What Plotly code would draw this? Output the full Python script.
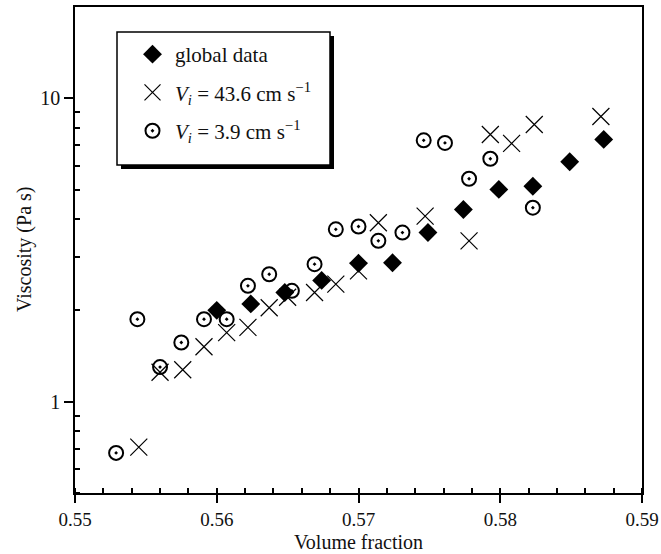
import plotly.graph_objects as go
import math

# ---- data ----
global_x = [0.5600, 0.5624, 0.5648, 0.5674, 0.5700, 0.5724, 0.5749, 0.5774, 0.5799, 0.5823, 0.5849, 0.5873]
global_y = [2.00, 2.10, 2.29, 2.51, 2.86, 2.87, 3.61, 4.30, 5.01, 5.13, 6.18, 7.32]

fast_x = [0.5545, 0.5560, 0.5576, 0.5591, 0.5607, 0.5622, 0.5637, 0.5650, 0.5669, 0.5684,
          0.5700, 0.5714, 0.5747, 0.5778, 0.5793, 0.5808, 0.5824, 0.5871]
fast_y = [0.708, 1.25, 1.274, 1.517, 1.69, 1.757, 2.04, 2.21, 2.29, 2.44,
          2.70, 3.89, 4.09, 3.39, 7.60, 7.10, 8.20, 8.71]

slow_x = [0.5529, 0.5544, 0.5560, 0.5575, 0.5591, 0.5607, 0.5622, 0.5637, 0.5653, 0.5669,
          0.5684, 0.5700, 0.5714, 0.5731, 0.5746, 0.5761, 0.5778, 0.5793, 0.5823]
slow_y = [0.678, 1.87, 1.30, 1.567, 1.87, 1.87, 2.41, 2.63, 2.32, 2.84,
          3.70, 3.78, 3.39, 3.61, 7.27, 7.13, 5.43, 6.32, 4.36]

names = ["global data",
         "<i>V</i><sub><i>i</i></sub> = 43.6 cm s<sup>\u22121</sup>",
         "<i>V</i><sub><i>i</i></sub> = 3.9 cm s<sup>\u22121</sup>"]

x_title = "Volume fraction"
y_title = "Viscosity (Pa s)"

x_ticks = [0.55, 0.56, 0.57, 0.58, 0.59]
y_ticks = [1, 10]
y_minor = [0.5, 0.6, 0.7, 0.8, 0.9, 2, 3, 4, 5, 6, 7, 8, 9]

FONT = "Liberation Serif"
INK = "#111111"
FS = 20

fig = go.Figure()
fig.add_trace(go.Scatter(
    x=global_x, y=global_y, mode="markers", name=names[0], legendgroup="a",
    marker=dict(symbol="diamond", size=14.5, color="black", line=dict(width=0))))
fig.add_trace(go.Scatter(
    x=fast_x, y=fast_y, mode="markers", name=names[1], legendgroup="b",
    marker=dict(symbol="x-thin", size=17, color="black", line=dict(width=1.2, color="black"))))
fig.add_trace(go.Scatter(
    x=slow_x, y=slow_y, mode="markers", name=names[2], legendgroup="c",
    marker=dict(symbol="circle-open-dot", size=14, color="black", line=dict(width=2, color="black"))))

L, R, T, B = 75, 19, 7, 61
W, H = 661, 554
pw, ph = W - L - R, H - T - B

def px_x(p):
    return (p - L) / pw

def px_y(p):
    return (H - B - p) / ph

# legend box with drop shadow
shapes = [
    dict(type="rect", xref="paper", yref="paper",
         x0=px_x(121), x1=px_x(334), y0=px_y(169), y1=px_y(36),
         fillcolor="black", line=dict(width=0), layer="above"),
    dict(type="rect", xref="paper", yref="paper",
         x0=px_x(117), x1=px_x(330), y0=px_y(165), y1=px_y(32),
         fillcolor="white", line=dict(width=1.5, color="black"), layer="above"),
]

annotations = [
    dict(text=x_title, xref="paper", yref="paper", x=0.5, y=px_y(554),
         xanchor="center", yanchor="bottom", showarrow=False, borderpad=0,
         font=dict(family=FONT, size=FS, color=INK)),
    dict(text=y_title, xref="paper", yref="paper", x=px_x(24), y=0.5,
         xanchor="center", yanchor="middle", textangle=-90, showarrow=False,
         font=dict(family=FONT, size=FS, color=INK)),
]

fig.update_layout(
    width=W, height=H,
    margin=dict(l=L, r=R, t=T, b=B),
    paper_bgcolor="white", plot_bgcolor="white",
    font=dict(family=FONT, size=FS, color=INK),
    shapes=shapes,
    annotations=annotations,
    showlegend=True,
    legend=dict(x=px_x(130), y=px_y(34), xanchor="left", yanchor="top",
                bgcolor="rgba(0,0,0,0)", borderwidth=0, itemwidth=35,
                tracegroupgap=8, font=dict(family=FONT, size=21, color=INK)),
    xaxis=dict(range=[0.55, 0.59], tickvals=x_ticks, ticktext=[f"{v:.2f}" for v in x_ticks],
               automargin=False,
               ticks="outside", ticklen=8, tickwidth=1.5, tickcolor="black",
               ticklabelstandoff=0,
               showline=True, linewidth=1.5, linecolor="black", mirror=True,
               showgrid=False, zeroline=False,
               minor=dict(dtick=0.002, tick0=0.55, ticks="inside", ticklen=5, tickwidth=1.5,
                          tickcolor="black", showgrid=False),
               tickfont=dict(family=FONT, size=19, color=INK)),
    yaxis=dict(type="log", range=[math.log10(0.5), math.log10(20)],
               tickvals=y_ticks, ticktext=[str(v) for v in y_ticks],
               automargin=False,
               ticks="outside", ticklen=9, tickwidth=1.5, tickcolor="black",
               showline=True, linewidth=1.5, linecolor="black", mirror=True,
               showgrid=False, zeroline=False,
               minor=dict(tickvals=y_minor, ticks="inside", ticklen=5, tickwidth=1.5,
                          tickcolor="black", showgrid=False),
               tickfont=dict(family=FONT, size=FS, color=INK)),
)

fig.write_html("out.html")
